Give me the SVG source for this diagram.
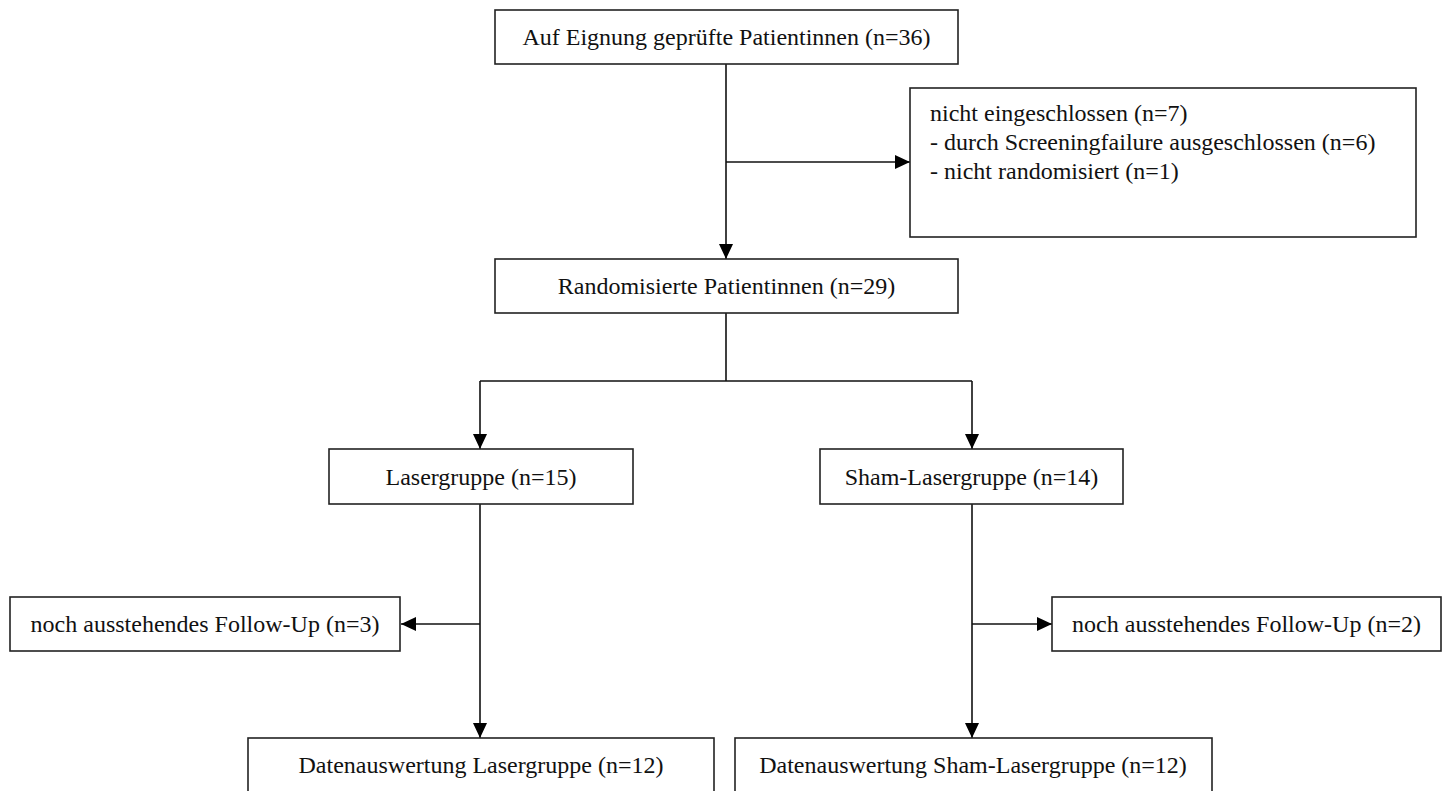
<svg xmlns="http://www.w3.org/2000/svg" width="1446" height="791" viewBox="0 0 1446 791">
<style>
.box{fill:#fff;stroke:#222;stroke-width:1.6}
.t{font-family:"Liberation Serif","Times New Roman",serif;font-size:24px;fill:#111}
.c{text-anchor:middle}
.ln{fill:none;stroke:#111;stroke-width:1.6}
</style>
<defs>
<marker id="ah" markerUnits="userSpaceOnUse" markerWidth="15" markerHeight="14" refX="15" refY="7" orient="auto">
<path d="M0,0 L15,7 L0,14 z" fill="#000"/>
</marker>
</defs>
<rect width="1446" height="791" fill="#fff"/>
<g id="connectors">
<path class="ln" d="M726,64 V259" marker-end="url(#ah)"/>
<path class="ln" d="M726,162 H910" marker-end="url(#ah)"/>
<path class="ln" d="M726,313 V381 M480,381 H972"/>
<path class="ln" d="M480,381 V449" marker-end="url(#ah)"/>
<path class="ln" d="M972,381 V449" marker-end="url(#ah)"/>
<path class="ln" d="M480,504 V738" marker-end="url(#ah)"/>
<path class="ln" d="M480,624 H401" marker-end="url(#ah)"/>
<path class="ln" d="M972,504 V738" marker-end="url(#ah)"/>
<path class="ln" d="M972,624 H1052" marker-end="url(#ah)"/>
</g>
<g id="n1"><rect class="box" x="495" y="10" width="463" height="54"/><text class="t c" x="726.5" y="45">Auf Eignung geprüfte Patientinnen (n=36)</text></g>
<g id="n2"><rect class="box" x="910" y="88" width="506" height="149"/>
<text class="t" x="930" y="121">nicht eingeschlossen (n=7)</text>
<text class="t" x="930" y="150">- durch Screeningfailure ausgeschlossen (n=6)</text>
<text class="t" x="930" y="179">- nicht randomisiert (n=1)</text></g>
<g id="n3"><rect class="box" x="495" y="259" width="463" height="54"/><text class="t c" x="726.5" y="294">Randomisierte Patientinnen (n=29)</text></g>
<g id="n4"><rect class="box" x="329" y="449" width="304" height="55"/><text class="t c" x="481" y="485">Lasergruppe (n=15)</text></g>
<g id="n5"><rect class="box" x="820" y="449" width="303" height="55"/><text class="t c" x="971.5" y="485">Sham-Lasergruppe (n=14)</text></g>
<g id="n6"><rect class="box" x="10" y="597" width="390" height="54"/><text class="t c" x="205" y="632">noch ausstehendes Follow-Up (n=3)</text></g>
<g id="n7"><rect class="box" x="1052" y="597" width="389" height="54"/><text class="t c" x="1246.5" y="632">noch ausstehendes Follow-Up (n=2)</text></g>
<g id="n8"><rect class="box" x="248" y="738" width="466" height="60"/><text class="t c" x="481" y="773">Datenauswertung Lasergruppe (n=12)</text></g>
<g id="n9"><rect class="box" x="735" y="738" width="477" height="60"/><text class="t c" x="973" y="773">Datenauswertung Sham-Lasergruppe (n=12)</text></g>
</svg>
